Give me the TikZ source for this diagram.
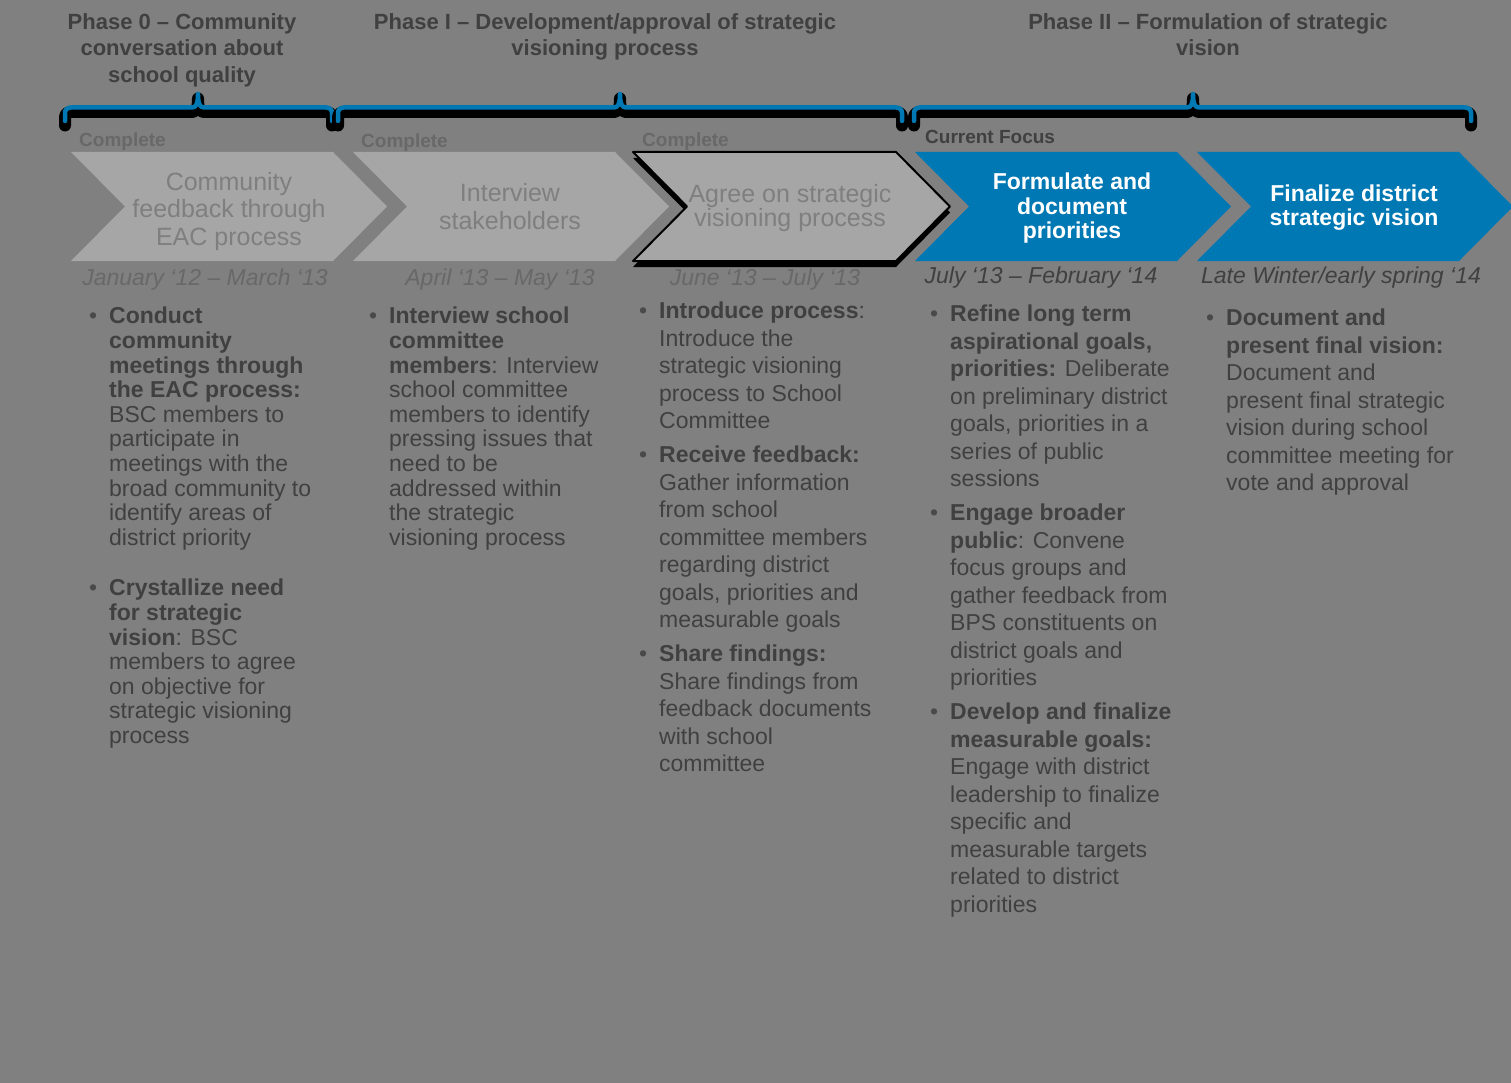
\documentclass[tikz,border=0pt]{standalone}
\usepackage{fontspec}
\setmainfont{Liberation Sans}
\usepackage{tikz}
\usepackage{xcolor}

\definecolor{bg}{HTML}{808080}
\definecolor{chevgray}{HTML}{A6A6A6}
\definecolor{chevtext}{HTML}{7F7F7F}
\definecolor{bpsblue}{RGB}{0,120,180}
\definecolor{darktext}{HTML}{404040}
\definecolor{fadetext}{HTML}{686868}
\definecolor{bulletgray}{HTML}{4A4A4A}

\newcommand{\itemdot}{\llap{\textcolor{bulletgray}{\textbullet}\hspace{12pt}}}

\begin{document}
\begin{tikzpicture}[x=1pt, y=-1pt,
    phasehead/.style={anchor=north, align=center, inner sep=0pt, text=darktext,
      font=\fontsize{22pt}{26.5pt}\selectfont\bfseries},
    chevlabel/.style={anchor=north, align=center, inner sep=0pt, text=chevtext},
    chevbold/.style={anchor=north, align=center, inner sep=0pt, text=white,
      font=\fontsize{23pt}{24.5pt}\selectfont\bfseries},
    statuslbl/.style={anchor=base west, inner sep=0pt, font=\fontsize{19pt}{22pt}\selectfont\bfseries},
    datelbl/.style={anchor=base, inner sep=0pt, font=\fontsize{23pt}{26pt}\selectfont\itshape},
    bodytxt/.style={anchor=north west, align=left, inner sep=0pt, text=darktext,
      font=\fontsize{23pt}{24.6pt}\selectfont},
    bodywide/.style={bodytxt, font=\fontsize{23pt}{27.5pt}\selectfont}]

  % Fundo
  \fill[bg] (0,0) rectangle (1511,1083);
  \useasboundingbox (0,0) rectangle (1511,1083);

  % Chaves das fases
  \foreach \xa/\xc/\xb in {65/198/332, 338/620/902, 914/1193/1471} {
    \foreach \sh/\lw/\cl in {4.5/12pt/black, 0/4.5pt/bpsblue}
      \draw[line width=\lw, \cl, line cap=round, line join=round, shift={(0,\sh)}]
        (\xa,121) -- (\xa,113) .. controls (\xa,109.5) and ({\xa+2.5},107.5) .. ({\xa+6},107.5)
        -- ({\xc-6},107.5) .. controls ({\xc-2},107.5) and (\xc,104) .. (\xc,94)
        .. controls (\xc,104) and ({\xc+2},107.5) .. ({\xc+6},107.5)
        -- ({\xb-6},107.5) .. controls ({\xb-2.5},107.5) and (\xb,109.5) .. (\xb,113) -- (\xb,121);
  }

  \node[phasehead] (ph0) at (182,13) {Phase 0 -- Community\\conversation about\\school quality};
  \node[phasehead] (ph1) at (605,13) {Phase I -- Development/approval of strategic\\visioning process};
  \node[phasehead] (ph2) at (1208,13) {Phase II -- Formulation of strategic\\vision};

  % Setas
  \foreach \x/\c in {71/chevgray, 353/chevgray, 915/bpsblue, 1197/bpsblue}
    \fill[\c] (\x,152) -- ++(262,0) -- ++(54,54.5) -- ++(-54,54.5) -- ++(-262,0) -- ++(54,-54.5) -- cycle;
  \fill[black] (633,158) -- ++(263,0) -- ++(54,54.5) -- ++(-54,54.5) -- ++(-263,0) -- ++(54,-54.5) -- cycle;
  \filldraw[fill=chevgray, draw=black, line width=2pt, line join=round]
    (633,152) -- ++(263,0) -- ++(54,54.5) -- ++(-54,54.5) -- ++(-263,0) -- ++(54,-54.5) -- cycle;

  \node[chevlabel, font=\fontsize{25pt}{27.5pt}\selectfont] (s1) at (229,172) {Community\\feedback through\\EAC process};
  \node[chevlabel, font=\fontsize{25pt}{28pt}\selectfont] (s2) at (510,183) {Interview\\stakeholders};
  \node[chevlabel, font=\fontsize{25pt}{24.5pt}\selectfont] (s3) at (790,184) {Agree on strategic\\visioning process};
  \node[chevbold] (s4) at (1072,173) {Formulate and\\document\\priorities};
  \node[chevbold, font=\fontsize{23pt}{24pt}\selectfont\bfseries] (s5) at (1354,185) {Finalize district\\strategic vision};

  % Estado
  \node[statuslbl, text=fadetext] (st1) at (79,147) {Complete};
  \node[statuslbl, text=fadetext] (st2) at (361,148) {Complete};
  \node[statuslbl, text=fadetext] (st3) at (642,147) {Complete};
  \node[statuslbl, text=darktext] (st4) at (925,144) {Current Focus};

  % Datas
  \node[datelbl, text=fadetext] (d1) at (205,285) {January ‘12 -- March ‘13};
  \node[datelbl, text=fadetext] (d2) at (500,285) {April ‘13 -- May ‘13};
  \node[datelbl, text=fadetext] (d3) at (765,285) {June ‘13 -- July ‘13};
  \node[datelbl, text=darktext] (d4) at (1041,283) {July ‘13 -- February ‘14};
  \node[datelbl, text=darktext] (d5) at (1341,283) {Late Winter/early spring ‘14};

  % Atividades
  \node[bodytxt] (c1a) at (109,307) {\itemdot\textbf{Conduct}\\\textbf{community}\\\textbf{meetings through}\\\textbf{the EAC process:}\\BSC members to\\participate in\\meetings with the\\broad community to\\identify areas of\\district priority};
  \node[bodytxt] (c1b) at (109,579) {\itemdot\textbf{Crystallize need}\\\textbf{for strategic}\\\textbf{vision}: BSC\\members to agree\\on objective for\\strategic visioning\\process};

  \node[bodytxt] (c2a) at (389,307) {\itemdot\textbf{Interview school}\\\textbf{committee}\\\textbf{members}: Interview\\school committee\\members to identify\\pressing issues that\\need to be\\addressed within\\the strategic\\visioning process};

  \node[bodywide] (c3a) at (659,302) {\itemdot\textbf{Introduce process}:\\Introduce the\\strategic visioning\\process to School\\Committee};
  \node[bodywide] (c3b) at (659,446) {\itemdot\textbf{Receive feedback:}\\Gather information\\from school\\committee members\\regarding district\\goals, priorities and\\measurable goals};
  \node[bodywide] (c3c) at (659,645) {\itemdot\textbf{Share findings:}\\Share findings from\\feedback documents\\with school\\committee};

  \node[bodywide] (c4a) at (950,305) {\itemdot\textbf{Refine long term}\\\textbf{aspirational goals,}\\\textbf{priorities:} Deliberate\\on preliminary district\\goals, priorities in a\\series of public\\sessions};
  \node[bodywide] (c4b) at (950,504) {\itemdot\textbf{Engage broader}\\\textbf{public}: Convene\\focus groups and\\gather feedback from\\BPS constituents on\\district goals and\\priorities};
  \node[bodywide] (c4c) at (950,703) {\itemdot\textbf{Develop and finalize}\\\textbf{measurable goals:}\\Engage with district\\leadership to finalize\\specific and\\measurable targets\\related to district\\priorities};

  \node[bodywide] (c5a) at (1226,309) {\itemdot\textbf{Document and}\\\textbf{present final vision:}\\Document and\\present final strategic\\vision during school\\committee meeting for\\vote and approval};
\end{tikzpicture}
\end{document}
